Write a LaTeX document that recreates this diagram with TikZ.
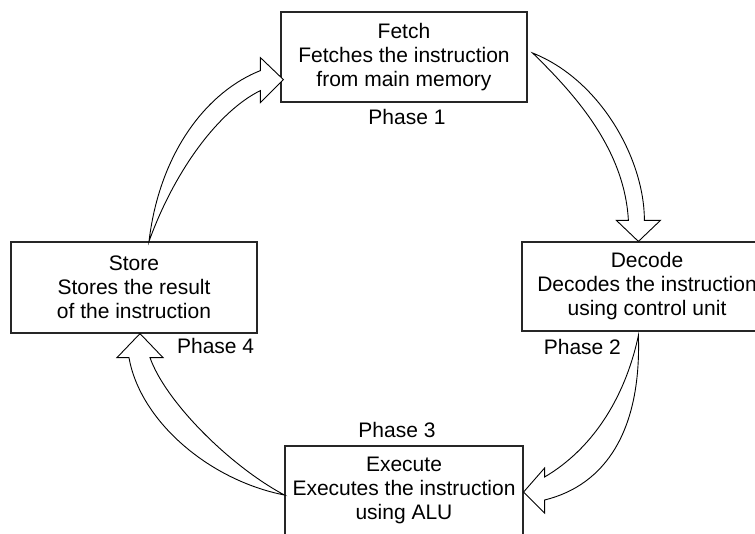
\documentclass[tikz,border=0pt]{standalone}
\usepackage{fontspec}
\setmainfont{Liberation Sans}
\usetikzlibrary{calc}

\tikzset{
  phasebox/.style={draw=black!85, line width=1.2pt, fill=white, align=center,
    inner sep=0pt, minimum height=89pt},
  phaselabel/.style={inner sep=0pt},
  fatarrow/.style={draw=black, line width=0.9pt, fill=white, line join=miter}
}

\begin{document}
\begin{tikzpicture}[x=1pt, y=-1pt,
  every node/.append style={font=\fontsize{21}{24}\selectfont}]
  \clip (0,0) rectangle (755,533);
  \fill[white] (0,0) rectangle (755,533);

  % the four stages of the cycle
  \node[phasebox, minimum width=246pt, minimum height=90pt] (fetch) at (404,57)
    {Fetch\\Fetches the instruction\\from main memory};
  \node[phasebox, minimum width=250pt] (decode) at (647,286.5)
    {Decode\\Decodes the instruction\\using control unit};
  \node[phasebox, minimum width=238pt] (execute) at (404,490.5)
    {Execute\\Executes the instruction\\using ALU};
  \node[phasebox, minimum width=246pt, minimum height=91pt] (store) at (134,287.5)
    {Store\\Stores the result\\of the instruction};

  % phase numbers
  \node[phaselabel] (p1) at ($(fetch.south)+(3,14)$) {Phase 1};
  \node[phaselabel] (p2) at ($(decode.south west)+(61,15)$) {Phase 2};
  \node[phaselabel] (p3) at ($(execute.north)+(-7,-15)$) {Phase 3};
  \node[phaselabel] (p4) at ($(store.south east)+(-42,12)$) {Phase 4};

  % ends of the hollow curved arrows
  \coordinate (a1t) at ($(fetch.east)+(5,-4)$);
  \coordinate (a1h) at ($(decode.north west)+(117,0)$);
  \coordinate (a2t) at ($(decode.south west)+(117,4)$);
  \coordinate (a2h) at ($(execute.east)+(0,1.5)$);
  \coordinate (a3t) at ($(execute.west)+(0,4.5)$);
  \coordinate (a3h) at ($(store.south)+(6,0)$);
  \coordinate (a4t) at ($(store.north)+(15,0)$);
  \coordinate (a4h) at ($(fetch.south west)+(3,-23)$);

  % Fetch -> Decode
  \draw[fatarrow] (a1t) .. controls +(68,27) and +(0,-61) .. ($(a1h)+(6,-21)$)
    -- ($(a1h)+(22,-21)$) -- (a1h) -- ($(a1h)+(-22,-21)$) -- ($(a1h)+(-10,-21)$)
    .. controls +(-4,-71) and +(43,42) .. (a1t) -- cycle;

  % Decode -> Execute
  \draw[fatarrow] (a2t) .. controls +(-14,65) and +(46,-27) .. ($(a2h)+(21,-15)$)
    -- ($(a2h)+(21,-24)$) -- (a2h) -- ($(a2h)+(21,21)$) -- ($(a2h)+(21,8)$)
    .. controls +(61,-15) and +(3,95) .. (a2t) -- cycle;

  % Execute -> Store
  \draw[fatarrow] (a3t) .. controls +(-56,-30) and +(15,43) .. ($(a3h)+(10,24)$)
    -- ($(a3h)+(23,24)$) -- (a3h) -- ($(a3h)+(-23,24)$) -- ($(a3h)+(-11,24)$)
    .. controls +(11,63) and +(-76,-15) .. (a3t) -- cycle;

  % Store -> Fetch
  \draw[fatarrow] (a4t) .. controls +(11,-92) and +(-51,20) .. ($(a4h)+(-23,-9)$)
    -- ($(a4h)+(-23,-22)$) -- (a4h) -- ($(a4h)+(-23,23)$) -- ($(a4h)+(-23,11)$)
    .. controls +(-41,20) and +(26,-72) .. (a4t) -- cycle;
\end{tikzpicture}
\end{document}
